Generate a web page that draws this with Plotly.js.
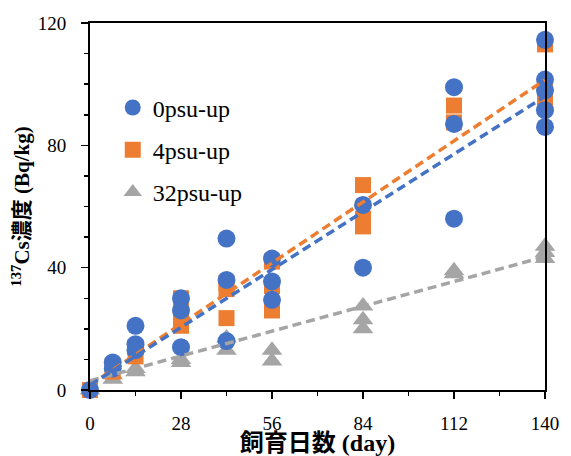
<!DOCTYPE html>
<html>
<head>
<meta charset="utf-8">
<script src="https://cdn.plot.ly/plotly-3.0.1.min.js"></script>
<style>html,body{margin:0;padding:0;background:#fff;}#chart{width:571px;height:456px;}</style>
</head>
<body>
<div id="chart"></div>
<script>
// Data
const seriesNames = ["0psu-up", "4psu-up", "32psu-up"];

const blueX = [0, 7, 7, 14, 14, 14, 28, 28, 28, 42, 42, 42, 56, 56, 56, 84, 84, 112, 112, 112, 140, 140, 140, 140, 140];
const blueY = [0, 9, 7, 21, 15, 13, 30, 26, 14, 49.5, 36, 16, 43, 35.5, 29.5, 60.5, 40, 99, 87, 56, 114.5, 101.5, 98, 91.5, 86];

const orangeX = [0, 7, 7, 14, 14, 28, 28, 28, 42, 42, 42, 56, 56, 56, 84, 84, 84, 112, 112, 140, 140, 140];
const orangeY = [0, 8, 6, 14, 11, 30, 25, 21, 35, 33, 23.5, 42, 34, 26, 67, 56, 53.5, 93, 87.5, 113, 97.5, 93];

const grayX = [0, 7, 7, 14, 14, 28, 28, 42, 42, 56, 56, 84, 84, 84, 112, 112, 140, 140, 140];
const grayY = [0, 5, 3.5, 7, 6, 10, 9, 17, 13, 13, 9.5, 27.5, 23, 20, 39, 38, 47, 45, 43];

// Linear trend lines (end points)
const trendX = [0, 140];
const trendBlue = [1.6, 96];
const trendOrange = [1.6, 101.4];
const trendGray = [3.0, 43.6];

const xTickVals = [0, 28, 56, 84, 112, 140];
const yTickVals = [0, 40, 80, 120];

const BLUE = "#4472C4", ORANGE = "#ED7D31", GRAY = "#A5A5A5";
const serif = '"Liberation Serif", "Times New Roman", Tinos, "DejaVu Serif", serif';
const titleFont = '"Liberation Serif", "Times New Roman", "Noto Sans CJK JP", serif';

const blueT = {x: blueX, y: blueY, name: seriesNames[0], type: "scatter", mode: "markers",
   legendgroup: "g1", legendrank: 1,
   marker: {symbol: "circle", size: 18, color: BLUE}, cliponaxis: false};
const orangeT = {x: orangeX, y: orangeY, name: seriesNames[1], type: "scatter", mode: "markers",
   legendgroup: "g2", legendrank: 2,
   marker: {symbol: "square", size: 16, color: ORANGE}, cliponaxis: false};
const grayT = {x: grayX, y: grayY, name: seriesNames[2], type: "scatter", mode: "markers",
   legendgroup: "g3", legendrank: 3,
   marker: {symbol: "triangle-up", size: 18, color: GRAY}, cliponaxis: false};

const data = [grayT, orangeT, blueT,
  {x: trendX, y: trendGray, type: "scatter", mode: "lines", showlegend: false, hoverinfo: "skip",
   line: {color: GRAY, width: 3.5, dash: "9px,5px"}},
  {x: trendX, y: trendOrange, type: "scatter", mode: "lines", showlegend: false, hoverinfo: "skip",
   line: {color: ORANGE, width: 3.5, dash: "9px,5px"}},
  {x: trendX, y: trendBlue, type: "scatter", mode: "lines", showlegend: false, hoverinfo: "skip",
   line: {color: BLUE, width: 3.5, dash: "9px,5px"}}
];

const layout = {
  width: 571, height: 456,
  margin: {l: 90, r: 26, t: 23, b: 66},
  paper_bgcolor: "#fff", plot_bgcolor: "#fff",
  showlegend: true,
  legend: {x: 0.05, y: 0.83, xanchor: "left", yanchor: "top", traceorder: "grouped",
           tracegroupgap: 8, bgcolor: "rgba(0,0,0,0)", itemwidth: 30,
           font: {family: serif, size: 24, color: "#000"}},
  xaxis: {
    range: [0, 140], tickvals: xTickVals, ticktext: xTickVals.map(String),
    showgrid: false, zeroline: false, showline: true, linecolor: "#000", linewidth: 2,
    mirror: true, ticks: "outside", ticklen: 7, tickwidth: 1.5, tickcolor: "#000",
    ticklabelstandoff: 8,
    minor: {dtick: 14, ticks: "outside", ticklen: 4, tickwidth: 1.5, tickcolor: "#000", showgrid: false},
    tickfont: {family: serif, size: 19, color: "#000"},
    title: {text: "<b>飼育日数 (day)</b>", font: {family: titleFont, size: 24, color: "#000"}, standoff: 0}
  },
  yaxis: {
    range: [0, 120], tickvals: yTickVals, ticktext: yTickVals.map(String),
    showgrid: false, zeroline: false, showline: true, linecolor: "#000", linewidth: 2,
    mirror: true, ticks: "outside", ticklen: 7, tickwidth: 1.5, tickcolor: "#000",
    ticklabelstandoff: 11,
    minor: {dtick: 10, ticks: "outside", ticklen: 4, tickwidth: 1.5, tickcolor: "#000", showgrid: false},
    tickfont: {family: serif, size: 19, color: "#000"},
    title: {text: "<b><sup>137</sup>Cs濃度 (Bq/kg)</b>", font: {family: titleFont, size: 21, color: "#000"}, standoff: 2}
  }
};

Plotly.newPlot("chart", data, layout, {displayModeBar: false, staticPlot: true});
</script>
</body>
</html>
